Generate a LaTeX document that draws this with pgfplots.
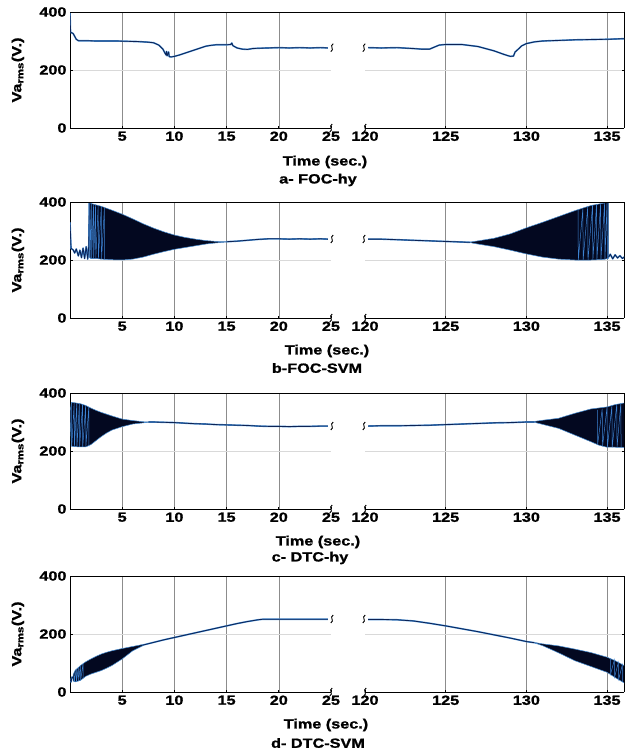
\documentclass[border=0pt]{standalone}
\usepackage{pgfplots}
\usepackage{pgfplotstable}
\pgfplotsset{compat=1.18}
\usepackage{fontspec}
\setmainfont{Liberation Sans}[FakeStretch=1.22, FakeBold=1.2]
\newcommand{\myfont}{\fontsize{13.3}{15}\selectfont\bfseries}
\definecolor{fillcol}{RGB}{3,8,32}
\definecolor{corecol}{RGB}{12,35,85}
\definecolor{halocol}{RGB}{70,140,210}
\definecolor{streakcol}{RGB}{60,130,210}

\pgfplotsset{
  brk/.style={scale only axis, height=116pt, ymin=0, ymax=400, ytick={0,200,400},
    tick align=inside, major tick length=2.5pt, tick style={black, line width=0.6pt},
    axis line style={-, line width=0.8pt},
    ymajorgrids, xmajorgrids,
    x grid style={black!45, line width=0.5pt},
    y grid style={black!15, line width=0.5pt},
    /pgf/number format/assume math mode=true,
    tick label style={font=\myfont}, label style={font=\myfont},
    clip=true},
  L/.style={brk, width=261pt, xmin=0, xmax=25, xtick={5,10,15,20},
    extra x ticks={25}, extra tick style={grid=none},
    axis x line*=bottom, axis y line*=left,
    ylabel={Va\textsubscript{rms}(V.)},
    ylabel style={at={(axis description cs:-0.2,0.5)}, anchor=center}},
  R/.style={brk, width=259pt, xmin=120, xmax=136.05, xtick={125,130,135},
    extra x ticks={120}, extra tick style={grid=none},
    axis x line*=bottom, axis y line*=right, yticklabels={,,}},
  halo/.style={no marks, line width=1.6pt, color=halocol, line join=round},
  core/.style={no marks, line width=0.8pt, color=corecol, line join=round},
  poly/.style={no marks, fill=fillcol, draw=halocol, line width=0.5pt},
  streak/.style={no marks, line width=0.5pt, color=streakcol},
}
\newcommand{\trace}[1]{\addplot[halo] table {#1}; \addplot[core] table {#1};}
\newcommand{\brkmark}[2]{\draw[line width=0.9pt, shift={(#1pt,#2pt)}] (-1.2pt,-4pt) .. controls (3pt,-1.5pt) and (-3pt,1.5pt) .. (1.2pt,4pt);}

% ---------- panel a ----------
\pgfplotstableread{
t v
0 400
0.05 330
0.3 326
0.6 306
0.8 301
1.5 301
2.5 300
3.5 300
4.5 300
5.5 299
6.5 298
7.5 296
8.0 294
8.5 286
8.9 272
9.1 258
9.2 252
9.25 264
9.3 249
9.45 262
9.5 246
9.7 245
10.0 247
10.5 252
11 258
11.5 264
12 270
12.5 276
13 282
13.5 285
14 287
15 287
15.4 288
15.5 293
15.6 284
16 276
16.5 272
17 271
17.5 274
18 275
19 276
20 277
21 276
22 277
23 276
24 277
24.7 276
}\aL
\pgfplotstableread{
t v
120.2 277
121 276
122 277
123 274
123.5 272
124 272
124.3 279
124.6 286
125 288
126 288
127 281
128 266
128.6 254
129 247
129.2 248
129.3 262
129.5 272
129.7 283
130 291
130.5 297
131 300
132 302
133 304
134 305
135 306
136.1 308
}\aR
% ---------- panel b ----------
\pgfplotstableread{
t v
0 330
0.1 240
0.3 235
0.45 224
0.6 238
0.8 214
0.95 234
1.1 208
1.25 241
1.4 205
1.55 246
1.7 203
1.8 250
1.85 400
}\bLa
\pgfplotstableread{
t v
15 263
16 265
17 268
18 271
19 273
20 273
21 272
22 273
23 272
24 273
24.7 272
}\bLb
\pgfplotstableread{
t v
1.85 400
2 395
2.5 390
3 385
4 372
5 358
6 342
7 325
8 310
9 297
10 286
11 278
12 272
13 267
14 264
15 263
15 262
14 259
13 255
12 249
11 243
10 237
9 229
8 220
7 210
6 203
5 200
4 201
3 203
2.5 205
2 205
1.85 210
}\bLp
\pgfplotstableread{
t v
1.90 398
1.92 206
2.05 395
2.07 205
2.25 392
2.27 205
2.45 390
2.47 204
2.7 388
2.72 204
3.0 385
3.02 203
3.3 380
3.32 202
}\bLs
\pgfplotstableread{
t v
120.2 272
121 272
122 270
123 268
124 266
125 264
126 262
126.5 261
}\bRa
\pgfplotstableread{
t v
126.5 262
127 266
128 275
129 290
130 311
131 330
132 350
133 370
134 388
134.8 396
135 400
135.1 400
135.1 206
134.8 202
134 200
133 200
132 203
131 210
130 221
129 234
128 246
127 255
126.5 260
}\bRp
\pgfplotstableread{
t v
135.1 210
135.2 220
135.35 204
135.5 218
135.65 207
135.8 215
135.95 205
136.1 212
}\bRb
\pgfplotstableread{
t v
133.2 372
133.22 200
133.5 377
133.52 200
133.8 383
133.82 200
134.1 389
134.12 200
134.35 392
134.37 201
134.6 394
134.62 201
134.85 397
134.87 202
135.0 400
135.02 203
}\bRs
% ---------- panel c ----------
\pgfplotstableread{
t v
0.02 340
0.15 368
0.5 366
1 363
1.5 357
2 348
2.5 340
3 333
3.5 327
4 321
5 310
6 305
7 301
7.5 300
7.5 299
7 297
6 293
5 284
4 272
3.5 262
3 250
2.5 236
2 222
1.5 214
1 214
0.5 215
0.15 216
0.02 300
}\cLp
\pgfplotstableread{
t v
0.15 366
0.17 216
0.4 366
0.42 215
0.65 365
0.67 215
0.9 364
0.92 214
1.2 360
1.22 214
1.5 357
1.52 214
1.8 352
1.82 216
}\cLs
\pgfplotstableread{
t v
7.5 300
8 300
9 299
10 298
11 296
12 294
13 293
14 291
15 290
16 289
17 288
18 286
19 285
20 285
21 284
22 285
23 285
24 286
24.7 286
}\cLa
\pgfplotstableread{
t v
120.2 286
121 287
122 287
123 288
124 289
125 291
126 293
127 295
128 297
129 298
130 300
130.5 300
}\cRa
\pgfplotstableread{
t v
130.5 302
131 306
132 313
133 330
134 345
135 352
135.5 360
136.1 366
136.1 212
135.5 213
135 213
134.5 220
134 232
133 255
132 278
131 292
130.5 299
}\cRp
\pgfplotstableread{
t v
134.4 342
134.42 224
134.7 346
134.72 216
135.0 352
135.02 213
135.3 356
135.32 213
135.6 361
135.62 213
135.85 364
135.87 213
}\cRs
% ---------- panel d ----------
\pgfplotstableread{
t v
0 45
0.1 35
0.2 52
0.3 48
}\dLa
\pgfplotstableread{
t v
0.3 60
0.5 75
1 91
1.5 104
2 114
2.5 123
3 131
3.5 137
4 142
5 150
6 157
7 164
7 160
6 142
5 114
4 91
3.5 82
3 74
2.5 68
2 62
1.5 54
1 40
0.5 35
0.3 38
}\dLp
\pgfplotstableread{
t v
0.4 65
0.42 36
0.6 80
0.62 36
0.8 86
0.82 38
1.0 91
1.02 40
1.25 98
1.27 47
}\dLs
\pgfplotstableread{
t v
7 162
8 171
9 180
10 188
11 196
12 204
13 212
14 220
15 228
16 236
17 243
18 249
18.5 251
19 251
20 251
21 251
22 251
23 251
24 251
24.7 251
}\dLb
\pgfplotstableread{
t v
120.2 250
121 250
122 249
123 245
124 237
125 228
126 218
127 208
128 197
129 186
130 174
130.5 170
}\dRa
\pgfplotstableread{
t v
130.5 171
131 166
132 159
133 148
134 136
135 120
135.5 108
136.1 90
136.1 30
135.5 50
135 68
134 88
133 108
132 135
131 160
130.5 169
}\dRp
\pgfplotstableread{
t v
135.2 116
135.22 62
135.45 110
135.47 52
135.7 102
135.72 44
135.95 94
135.97 35
}\dRs

\begin{document}
\begin{tikzpicture}[font=\myfont]
\useasboundingbox (0,0) rectangle (625pt,-756pt);

% ===== panel a =====
\begin{axis}[L, at={(70pt,-12pt)}, anchor=north west]
\trace{\aL}
\end{axis}
\begin{axis}[R, at={(365pt,-12pt)}, anchor=north west]
\trace{\aR}
\end{axis}
\draw[line width=0.8pt] (70pt,-12pt) -- (624pt,-12pt);
\brkmark{331}{-128}\brkmark{365}{-128}
\brkmark{332}{-47.7}\brkmark{364}{-47.7}
\node at (325pt,-162pt) {Time (sec.)};
\node at (318pt,-180pt) {a- FOC-hy};

% ===== panel b =====
\begin{axis}[L, at={(70pt,-202pt)}, anchor=north west]
\addplot[halo] table {\bLa};
\addplot[halo] table {\bLb};
\addplot[poly] table {\bLp} -- cycle;
\addplot[core] table {\bLa};
\addplot[core] table {\bLb};
\addplot[streak] table {\bLs};
\end{axis}
\begin{axis}[R, at={(365pt,-202pt)}, anchor=north west]
\addplot[halo] table {\bRa};
\addplot[halo] table {\bRb};
\addplot[poly] table {\bRp} -- cycle;
\addplot[core] table {\bRa};
\addplot[core] table {\bRb};
\addplot[streak] table {\bRs};
\end{axis}
\draw[line width=0.8pt] (70pt,-202pt) -- (624pt,-202pt);
\brkmark{331}{-318}\brkmark{365}{-318}
\brkmark{332}{-239}\brkmark{364}{-239}
\node at (327pt,-351pt) {Time (sec.)};
\node at (317pt,-368pt) {b-FOC-SVM};

% ===== panel c =====
\begin{axis}[L, at={(70pt,-393pt)}, anchor=north west]
\addplot[halo] table {\cLa};
\addplot[poly] table {\cLp} -- cycle;
\addplot[core] table {\cLa};
\addplot[streak] table {\cLs};
\end{axis}
\begin{axis}[R, at={(365pt,-393pt)}, anchor=north west]
\addplot[halo] table {\cRa};
\addplot[poly] table {\cRp} -- cycle;
\addplot[core] table {\cRa};
\addplot[streak] table {\cRs};
\end{axis}
\draw[line width=0.8pt] (70pt,-393pt) -- (624pt,-393pt);
\brkmark{331}{-509}\brkmark{365}{-509}
\brkmark{332}{-426}\brkmark{364}{-426}
\node at (318pt,-542pt) {Time (sec.)};
\node at (310pt,-558pt) {c- DTC-hy};

% ===== panel d =====
\begin{axis}[L, at={(70pt,-576pt)}, anchor=north west]
\addplot[halo] table {\dLa};
\addplot[halo] table {\dLb};
\addplot[poly] table {\dLp} -- cycle;
\addplot[core] table {\dLa};
\addplot[core] table {\dLb};
\addplot[streak] table {\dLs};
\end{axis}
\begin{axis}[R, at={(365pt,-576pt)}, anchor=north west]
\addplot[halo] table {\dRa};
\addplot[poly] table {\dRp} -- cycle;
\addplot[core] table {\dRa};
\addplot[streak] table {\dRs};
\end{axis}
\draw[line width=0.8pt] (70pt,-576pt) -- (624pt,-576pt);
\brkmark{331}{-692}\brkmark{365}{-692}
\brkmark{332}{-619}\brkmark{364}{-619}
\node at (326pt,-725pt) {Time (sec.)};
\node at (318pt,-743pt) {d- DTC-SVM};
\end{tikzpicture}
\end{document}
